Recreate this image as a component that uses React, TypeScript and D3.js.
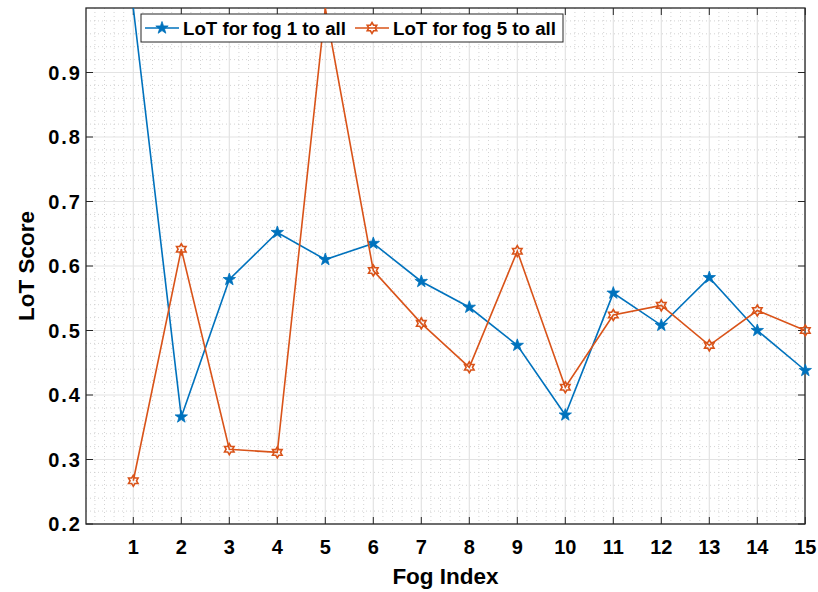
import React from "react";
import * as d3 from "d3";

const fogIndex = [1, 2, 3, 4, 5, 6, 7, 8, 9, 10, 11, 12, 13, 14, 15];
const fog1Values = [1.0, 0.366, 0.579, 0.652, 0.61, 0.635, 0.576, 0.536, 0.477, 0.369, 0.558, 0.508, 0.582, 0.5, 0.438];
const fog5Values = [0.267, 0.626, 0.316, 0.311, 1.0, 0.593, 0.511, 0.443, 0.623, 0.412, 0.524, 0.539, 0.477, 0.531, 0.5];
const yTicks = [0.2, 0.3, 0.4, 0.5, 0.6, 0.7, 0.8, 0.9];
const seriesNames = ["LoT for fog 1 to all", "LoT for fog 5 to all"];
const colors = ["#0072BD", "#D95319"];

const W = 818, H = 592;
const L = 86, R = 805, T = 8, B = 524;

function starPath(cx: number, cy: number, rOut: number, rIn: number, n: number, rot = -Math.PI / 2) {
  const pts: string[] = [];
  for (let i = 0; i < 2 * n; i++) {
    const r = i % 2 === 0 ? rOut : rIn;
    const a = rot + (i * Math.PI) / n;
    pts.push(`${(cx + r * Math.cos(a)).toFixed(2)},${(cy + r * Math.sin(a)).toFixed(2)}`);
  }
  return "M" + pts.join("L") + "Z";
}

function Marker({ kind, x, y, color }: { kind: number; x: number; y: number; color: string }) {
  if (kind === 0) {
    return <path d={starPath(x, y, 6.5, 2.6, 5)} fill={color} stroke={color} strokeWidth={0.8} />;
  }
  return <path d={starPath(x, y, 5.5, 3.2, 6)} fill="none" stroke={color} strokeWidth={1.6} />;
}

export default function App() {
  const x = d3.scaleLinear().domain([0, 15]).range([85.3, 805.3]);
  const y = d3.scaleLinear().domain([0.2, 1.0]).range([B, T]);
  const line = d3.line<number>().x((_, i) => x(fogIndex[i])).y((d) => y(d));

  const xMinor = d3.range(0, 15.001, 0.2).filter((v) => Math.abs(v - Math.round(v)) > 1e-6);
  const yMinor = d3.range(0.2, 1.0001, 0.02).filter((v) => Math.abs(v * 10 - Math.round(v * 10)) > 1e-6);
  const series = [fog1Values, fog5Values];
  const font = "'Liberation Sans', Arial, Helvetica, sans-serif";

  return (
    <svg width={W} height={H} style={{ position: "absolute", left: 0, top: 0, background: "#fff" }}>
      <defs>
        <clipPath id="plotclip">
          <rect x={L - 10} y={T} width={R - L + 20} height={B - T + 10} />
        </clipPath>
      </defs>
      <rect x={L} y={T} width={R - L} height={B - T} fill="#fff" />
      {xMinor.map((v, i) => (
        <line key={"xm" + i} x1={x(v)} x2={x(v)} y1={T} y2={B} stroke="#c8c8c8" strokeWidth={0.8} strokeDasharray="1,3" />
      ))}
      {yMinor.map((v, i) => (
        <line key={"ym" + i} x1={L} x2={R} y1={y(v)} y2={y(v)} stroke="#c8c8c8" strokeWidth={0.8} strokeDasharray="1,3" />
      ))}
      {fogIndex.map((v) => (
        <line key={"xg" + v} x1={x(v)} x2={x(v)} y1={T} y2={B} stroke="#e3e3e3" strokeWidth={1.2} />
      ))}
      {yTicks.map((v) => (
        <line key={"yg" + v} x1={L} x2={R} y1={y(v)} y2={y(v)} stroke="#e3e3e3" strokeWidth={1.2} />
      ))}
      {fogIndex.map((v) => (
        <g key={"xt" + v}>
          <line x1={x(v)} x2={x(v)} y1={B} y2={B - 7} stroke="#262626" strokeWidth={1} />
          <line x1={x(v)} x2={x(v)} y1={T} y2={T + 7} stroke="#262626" strokeWidth={1} />
          <text x={x(v)} y={B + 30} textAnchor="middle" fontFamily={font} fontWeight="bold" fontSize={20} fill="#000">
            {v}
          </text>
        </g>
      ))}
      {yTicks.map((v) => (
        <g key={"yt" + v}>
          <line x1={L} x2={L + 7} y1={y(v)} y2={y(v)} stroke="#262626" strokeWidth={1} />
          <line x1={R} x2={R - 7} y1={y(v)} y2={y(v)} stroke="#262626" strokeWidth={1} />
          <text x={82} y={y(v) + 7} textAnchor="end" fontFamily={font} fontWeight="bold" fontSize={20} letterSpacing={2} fill="#000">
            {v.toFixed(1)}
          </text>
        </g>
      ))}
      <rect x={L} y={T} width={R - L} height={B - T} fill="none" stroke="#262626" strokeWidth={1.3} />
      <g clipPath="url(#plotclip)">
        {series.map((s, si) => (
          <g key={"s" + si}>
            <path d={line(s) || ""} fill="none" stroke={colors[si]} strokeWidth={1.6} />
            {s.map((d, i) => (y(d) > T + 0.5 ? <Marker key={i} kind={si} x={x(fogIndex[i])} y={y(d)} color={colors[si]} /> : null))}
          </g>
        ))}
      </g>
      <text x={(L + R) / 2} y={584} textAnchor="middle" fontFamily={font} fontWeight="bold" fontSize={22.5} fill="#000">
        Fog Index
      </text>
      <text transform={`translate(34,${(T + B) / 2}) rotate(-90)`} textAnchor="middle" fontFamily={font} fontWeight="bold" fontSize={22.5} fill="#000">
        LoT Score
      </text>
      <g>
        <rect x={141} y={14} width={422} height={28} fill="#fff" stroke="#262626" strokeWidth={1} />
        {seriesNames.map((name, i) => {
          const x0 = i === 0 ? 145 : 355;
          return (
            <g key={name}>
              <line x1={x0} x2={x0 + 34} y1={28} y2={28} stroke={colors[i]} strokeWidth={1.6} />
              <Marker kind={i} x={x0 + 17} y={28} color={colors[i]} />
              <text x={x0 + 38} y={35} fontFamily={font} fontWeight="bold" fontSize={18.7} fill="#000">
                {name}
              </text>
            </g>
          );
        })}
      </g>
    </svg>
  );
}
